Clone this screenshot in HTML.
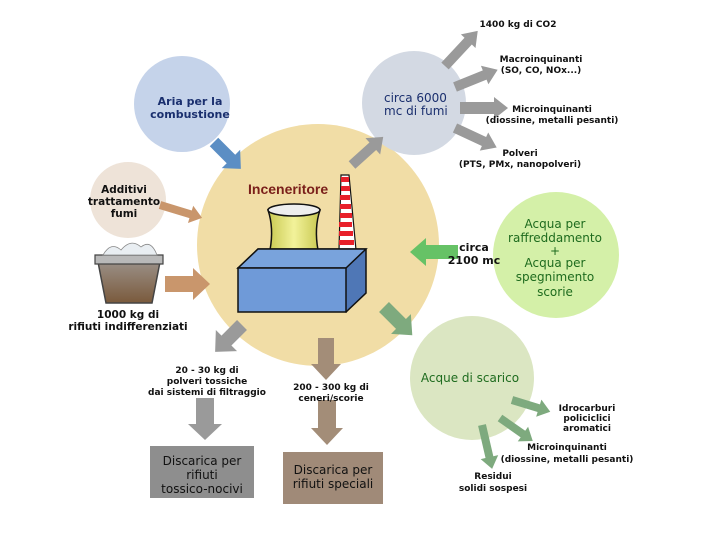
<!DOCTYPE html>
<html><head><meta charset="utf-8"><style>
body{margin:0;background:#fff}
svg{display:block}
text{font-family:"DejaVu Sans","Liberation Sans",sans-serif}
.b{font-weight:bold;font-size:9px;fill:#111}
</style></head><body>
<svg width="720" height="540" viewBox="0 0 720 540" xmlns="http://www.w3.org/2000/svg">
<defs>
<linearGradient id="bin" x1="0" x2="0" y1="0" y2="1"><stop offset="0" stop-color="#9a8f86"/><stop offset="1" stop-color="#7a5a3c"/></linearGradient>
<linearGradient id="tow" x1="0" x2="1"><stop offset="0" stop-color="#c8c850"/><stop offset="0.5" stop-color="#f2f29a"/><stop offset="1" stop-color="#c8c850"/></linearGradient>
</defs>
<circle cx="318" cy="245" r="121" fill="#f1dda6"/>
<circle cx="182" cy="104" r="48" fill="#c5d3ea"/>
<circle cx="414" cy="103" r="52" fill="#d3d9e3"/>
<circle cx="128" cy="200" r="38" fill="#eee3d8"/>
<circle cx="556" cy="255" r="63" fill="#d4f0a8"/>
<circle cx="472" cy="378" r="62" fill="#dbe6c2"/>

<g fill="#5b8ec4"><polygon transform="translate(214,142) rotate(45)" points="0,-6 24,-6 24,-13 38,0 24,13 24,6 0,6"/></g>
<g fill="#c9966c">
<polygon transform="translate(160,205) rotate(17)" points="0,-4 32,-4 32,-9 44,0 32,9 32,4 0,4"/>
<polygon transform="translate(165,284) rotate(0)" points="0,-8 28,-8 28,-16 45,0 28,16 28,8 0,8"/>
</g>
<g fill="#9a9a9a">
<polygon transform="translate(352,165) rotate(-42)" points="0,-5 28,-5 28,-11 42,0 28,11 28,5 0,5"/>
<polygon transform="translate(445,66) rotate(-47)" points="0,-5 34,-5 34,-10 48,0 34,10 34,5 0,5"/>
<polygon transform="translate(455,87) rotate(-22)" points="0,-5 32,-5 32,-10 46,0 32,10 32,5 0,5"/>
<polygon transform="translate(460,108) rotate(0)" points="0,-6 34,-6 34,-11 48,0 34,11 34,6 0,6"/>
<polygon transform="translate(455,128) rotate(25)" points="0,-5 32,-5 32,-10 46,0 32,10 32,5 0,5"/>
<polygon transform="translate(242,325) rotate(135)" points="0,-7 22,-7 22,-15 38,0 22,15 22,7 0,7"/>
<polygon transform="translate(205,398) rotate(90)" points="0,-9 26,-9 26,-17 42,0 26,17 26,9 0,9"/>
</g>
<g fill="#a38d78">
<polygon transform="translate(326,338) rotate(90)" points="0,-8 26,-8 26,-15 42,0 26,15 26,8 0,8"/>
<polygon transform="translate(327,400) rotate(90)" points="0,-9 28,-9 28,-16 45,0 28,16 28,9 0,9"/>
</g>
<polygon fill="#66c266" transform="translate(458,252) rotate(180)" points="0,-7 32,-7 32,-14 48,0 32,14 32,7 0,7"/>
<g fill="#7eaa7e">
<polygon transform="translate(384,307) rotate(45)" points="0,-7 24,-7 24,-14 40,0 24,14 24,7 0,7"/>
<polygon transform="translate(512,400) rotate(17)" points="0,-4 28,-4 28,-9 40,0 28,9 28,4 0,4"/>
<polygon transform="translate(500,418) rotate(35)" points="0,-4 28,-4 28,-9 40,0 28,9 28,4 0,4"/>
<polygon transform="translate(482,425) rotate(77)" points="0,-4 33,-4 33,-9 45,0 33,9 33,4 0,4"/>
</g>

<path d="M98,262 L160,262 L152,303 L106,303 Z" fill="url(#bin)" stroke="#444" stroke-width="1.5"/>
<path d="M95,255 L163,255 L163,264 L95,264 Z" fill="#b9b9b9" stroke="#444" stroke-width="1.2"/>
<path d="M103,255 q8,-14 18,-5 q10,-12 20,-3 q10,-8 16,8 Z" fill="#e9eef2" stroke="#888" stroke-width="0.8"/>

<path d="M268,210 Q274,228 270,250 L318,250 Q314,228 320,210 Z" fill="url(#tow)" stroke="#111" stroke-width="1.5"/>
<ellipse cx="294" cy="210" rx="26" ry="6" fill="#eee" stroke="#111" stroke-width="1.5"/>
<path d="M341,175 L349,175 L356,250 L339,250 Z" fill="#fff" stroke="#111" stroke-width="1.2"/>
<g fill="#e8202a"><path d="M341,177h8v5h-8z"/><path d="M341,186h9v5h-9z"/><path d="M340,195h10v5h-10z"/><path d="M340,204h11v5h-11z"/><path d="M340,213h12v5h-12z"/><path d="M339,222h13v5h-13z"/><path d="M339,231h14v5h-14z"/><path d="M339,240h15v5h-15z"/></g>
<path d="M238,268 L258,249 L366,249 L366,293 L346,312 Z" fill="#4f77b6" stroke="#111" stroke-width="1.5"/>
<path d="M238,268 L258,249 L366,249 L346,268 Z" fill="#79a3dc" stroke="#111" stroke-width="1.5"/>
<rect x="238" y="268" width="108" height="44" fill="#6f9ad8" stroke="#111" stroke-width="1.5"/>
<text x="248" y="194" font-size="14" font-weight="bold" fill="#7a1f1a" style="font-family:'Liberation Sans',sans-serif">Inceneritore</text>

<rect x="150" y="446" width="104" height="52" fill="#8e8e8e"/>
<rect x="283" y="452" width="100" height="52" fill="#a08a78"/>
<g font-size="12" fill="#111" text-anchor="middle">
<text x="202" y="465">Discarica per</text><text x="202" y="479">rifiuti</text><text x="202" y="493">tossico-nocivi</text>
<text x="333" y="474">Discarica per</text><text x="333" y="488">rifiuti speciali</text>
</g>

<g font-size="11" font-weight="bold" fill="#1a2f6e" text-anchor="middle"><text x="190" y="105">Aria per la</text><text x="190" y="118">combustione</text></g>
<g font-size="12" fill="#1a2f6e"><text x="384" y="102">circa 6000</text><text x="384" y="115">mc di fumi</text></g>
<g font-size="10.5" font-weight="bold" fill="#111" text-anchor="middle"><text x="124" y="193">Additivi</text><text x="124" y="205">trattamento</text><text x="124" y="217">fumi</text></g>
<g font-size="10.5" font-weight="bold" fill="#111" text-anchor="middle"><text x="128" y="318">1000 kg di</text><text x="128" y="330">rifiuti indifferenziati</text></g>
<g font-size="12" fill="#1e6b1e" text-anchor="middle"><text x="555" y="228">Acqua per</text><text x="555" y="242">raffreddamento</text><text x="555" y="255">+</text><text x="555" y="267">Acqua per</text><text x="555" y="281">spegnimento</text><text x="555" y="296">scorie</text></g>
<g font-size="11" font-weight="bold" fill="#111" text-anchor="middle"><text x="474" y="251">circa</text><text x="474" y="264">2100 mc</text></g>
<text x="470" y="382" font-size="12" fill="#1e6b1e" text-anchor="middle">Acque di scarico</text>

<g class="b" text-anchor="middle">
<text x="518" y="27">1400 kg di CO2</text>
<text x="541" y="62">Macroinquinanti</text><text x="541" y="73">(SO, CO, NOx...)</text>
<text x="552" y="112">Microinquinanti</text><text x="552" y="123">(diossine, metalli pesanti)</text>
<text x="520" y="156">Polveri</text><text x="520" y="167">(PTS, PMx, nanopolveri)</text>
<text x="207" y="373">20 - 30 kg di</text><text x="207" y="384">polveri tossiche</text><text x="207" y="395">dai sistemi di filtraggio</text>
<text x="331" y="390">200 - 300 kg di</text><text x="331" y="401">ceneri/scorie</text>
<text x="587" y="411">Idrocarburi</text><text x="587" y="421">policiclici</text><text x="587" y="431">aromatici</text>
<text x="567" y="450">Microinquinanti</text><text x="567" y="462">(diossine, metalli pesanti)</text>
<text x="493" y="479">Residui</text><text x="493" y="491">solidi sospesi</text>
</g>
</svg>
</body></html>
